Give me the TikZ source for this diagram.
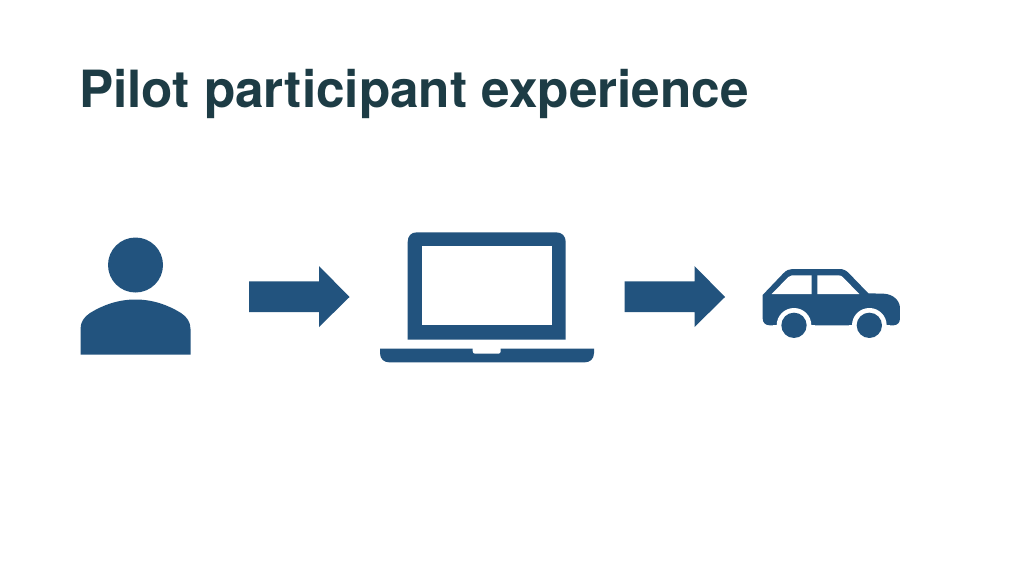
\documentclass[tikz,border=0pt]{standalone}
\usepackage{fontspec}
\setmainfont{TeX Gyre Heros}
\definecolor{iconblue}{HTML}{22537E}
\definecolor{titleink}{HTML}{1D3C45}
\tikzset{icon/.style={fill=iconblue,draw=none},hole/.style={fill=white,draw=none}}
\begin{document}
\begin{tikzpicture}[x=1pt,y=-1pt]
\useasboundingbox[fill=white] (0,0) rectangle (1024,576);
\node[anchor=base west,inner sep=0pt,text=titleink,font=\bfseries\fontsize{51.3}{60}\selectfont] (title) at (79,107) {Pilot participant experience};
% person
\fill[icon] (135.5,265) circle[radius=27.5];
\fill[icon] (80.5,354.5) -- (80.5,329) .. controls (80.5,322) and (84,317) .. (90,313) .. controls (103,305) and (118,299.5) .. (135.5,299.5) .. controls (153,299.5) and (168,305) .. (181,313) .. controls (187,317) and (190.5,322) .. (190.5,329) -- (190.5,354.5) -- cycle;
% arrows
\fill[icon] (249,281.3) -- (319,281.3) -- (319,266) -- (349.5,297) -- (319,327) -- (319,312) -- (249,312) -- cycle;
\fill[icon] (624.5,281.3) -- (694.5,281.3) -- (694.5,266) -- (725,297) -- (694.5,327) -- (694.5,312) -- (624.5,312) -- cycle;
% laptop
\fill[icon] (407.7,339.5) -- (407.7,242) .. controls (407.7,236) and (411,232.3) .. (417,232.3) -- (556,232.3) .. controls (562,232.3) and (565.7,236) .. (565.7,242) -- (565.7,339.5) -- cycle;
\fill[hole] (421.7,246.3) rectangle (552,325.3);
\fill[icon] (380,348.7) -- (472.7,348.7) -- (472.7,351.5) .. controls (472.7,353) and (473.5,353.7) .. (475,353.7) -- (498.5,353.7) .. controls (500,353.7) and (500.7,353) .. (500.7,351.5) -- (500.7,348.7) -- (594,348.7) -- (594,353) .. controls (594,359) and (590,362.3) .. (585,362.3) -- (389,362.3) .. controls (384,362.3) and (380,359) .. (380,353) -- cycle;
% car
\begin{scope}[shift={(740,250)},x=0.3333pt,y=-0.3333pt]
\fill[icon] (68,135) -- (130,70) .. controls (140,60) and (148,57) .. (158,57) -- (298,57) .. controls (310,57) and (318,61) .. (326,69) -- (385,130) -- (430,131) .. controls (460,132) and (480,152) .. (480,175) -- (480,205) .. controls (480,218) and (472,226) .. (460,226) -- (90,226) .. controls (76,226) and (68,218) .. (68,205) -- cycle;
\fill[hole] (95,132) -- (145,81) .. controls (149,77) and (152,76) .. (156,76) -- (215,76) -- (215,132) -- cycle;
\fill[hole] (232,76) -- (296,76) .. controls (302,76) and (305,78) .. (309,82) -- (358,132) -- (232,132) -- cycle;
\fill[hole] (162,226) circle[radius=52];
\fill[hole] (388,226) circle[radius=52];
\fill[hole] (100,226) rectangle (224,270);
\fill[hole] (326,226) rectangle (450,270);
\fill[icon] (162,226) circle[radius=38];
\fill[icon] (388,226) circle[radius=38];
\end{scope}
\end{tikzpicture}
\end{document}
